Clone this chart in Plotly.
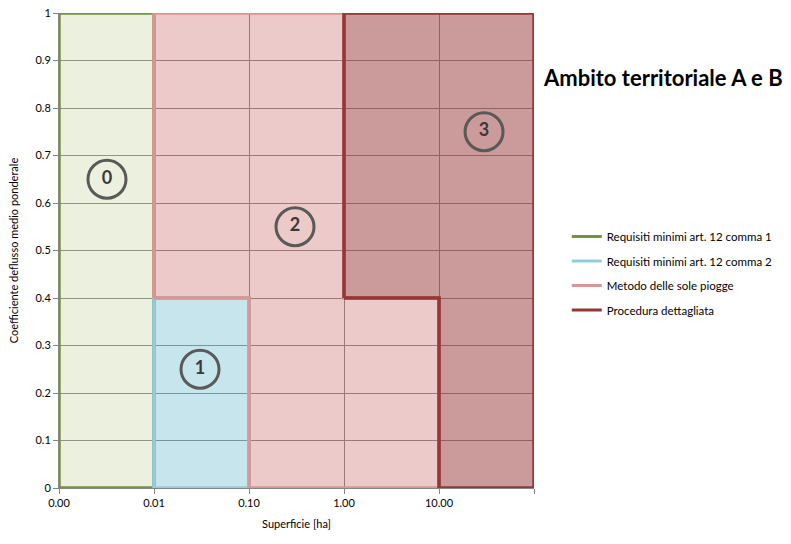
import plotly.graph_objects as go

# ---- data ----
superficie_ticks = [0.001, 0.01, 0.1, 1, 10, 100]
superficie_labels = ["0.00", "0.01", "0.10", "1.00", "10.00", ""]
coeff_ticks = [0, 0.1, 0.2, 0.3, 0.4, 0.5, 0.6, 0.7, 0.8, 0.9, 1]

zone_names = [
    "Requisiti minimi art. 12 comma 1",
    "Requisiti minimi art. 12 comma 2",
    "Metodo delle sole piogge",
    "Procedura dettagliata",
]
zone0_x = [0.001, 0.001, 0.01, 0.01, 0.001]
zone0_y = [0, 1, 1, 0, 0]
zone1_x = [0.01, 0.01, 0.1, 0.1, 0.01]
zone1_y = [0, 0.4, 0.4, 0, 0]
zone2_x = [0.01, 0.01, 1, 1, 10, 10, 0.1, 0.1, 0.01]
zone2_y = [0.4, 1, 1, 0.4, 0.4, 0, 0, 0.4, 0.4]
zone3_x = [1, 1, 100, 100, 10, 10, 1]
zone3_y = [0.4, 1, 1, 0, 0, 0.4, 0.4]

label_text = ["0", "1", "2", "3"]
label_x = [0.0032, 0.0305, 0.305, 29.8]
label_y = [0.65, 0.25, 0.55, 0.75]

# ---- style ----
line_colors = ["#77933c", "#93cddd", "#d99694", "#953735"]
fill_colors = ["rgba(155,187,89,0.2)", "rgba(75,172,198,0.31)",
               "rgba(192,80,77,0.3)", "rgba(149,55,53,0.5)"]
FONT = "Lato"

fig = go.Figure()
zones = [(zone0_x, zone0_y), (zone1_x, zone1_y), (zone2_x, zone2_y), (zone3_x, zone3_y)]
for i, (zx, zy) in enumerate(zones):
    fig.add_trace(go.Scatter(
        x=zx, y=zy, mode="lines", fill="toself",
        fillcolor=fill_colors[i],
        line=dict(color=line_colors[i], width=3.5),
        showlegend=False, hoverinfo="skip"))

for i, name in enumerate(zone_names):
    fig.add_trace(go.Scatter(
        x=[None], y=[None], mode="lines", name=name,
        line=dict(color=line_colors[i], width=3),
        legendgroup=f"g{i}"))

fig.add_trace(go.Scatter(
    x=label_x, y=label_y, mode="markers+text", text=label_text,
    textposition="middle center",
    textfont=dict(family=FONT, size=18, color="#3a3a3a", weight="bold"),
    marker=dict(symbol="circle", size=38, color="rgba(0,0,0,0)",
                line=dict(color="#595959", width=3)),
    showlegend=False, hoverinfo="skip"))

fig.add_annotation(
    text="<b>Ambito territoriale A e B</b>", xref="paper", yref="paper",
    x=1.015, y=0.865, xanchor="left", yanchor="middle", showarrow=False,
    font=dict(family=FONT, size=22, color="#000000"))

fig.update_xaxes(
    type="log", range=[-3, 2], tickvals=superficie_ticks, ticktext=superficie_labels,
    showgrid=True, gridcolor="#8c8c8c", gridwidth=1,
    showline=True, linecolor="#868686", linewidth=1,
    ticks="outside", ticklen=5, tickcolor="#868686",
    zeroline=False, automargin=False, ticklabeloverflow="allow",
    title=dict(text="Superficie [ha]", font=dict(family=FONT, size=11, color="#000"), standoff=12),
    tickfont=dict(family=FONT, size=11, color="#000"))
fig.update_yaxes(
    range=[0, 1], tickvals=coeff_ticks,
    showgrid=True, gridcolor="#8c8c8c", gridwidth=1,
    showline=True, linecolor="#868686", linewidth=1,
    ticks="outside", ticklen=5, tickcolor="#868686",
    zeroline=False, automargin=False, ticklabeloverflow="allow",
    title=dict(text="Coefficiente deflusso medio ponderale", font=dict(family=FONT, size=11, color="#000"), standoff=14),
    tickfont=dict(family=FONT, size=11, color="#000"))

fig.update_layout(
    width=791, height=544,
    margin=dict(l=59, r=257, t=13, b=56),
    paper_bgcolor="white", plot_bgcolor="white",
    font=dict(family=FONT, size=11, color="#000"),
    legend=dict(x=1.069, y=0.56, xanchor="left", yanchor="top",
                traceorder="grouped", tracegroupgap=5.5, itemwidth=30,
                font=dict(family=FONT, size=11.5, color="#000"),
                bgcolor="rgba(0,0,0,0)"),
)

fig.write_html("out.html",
               config={"responsive": False, "displayModeBar": False},
               post_script="document.body.style.margin='0';")
